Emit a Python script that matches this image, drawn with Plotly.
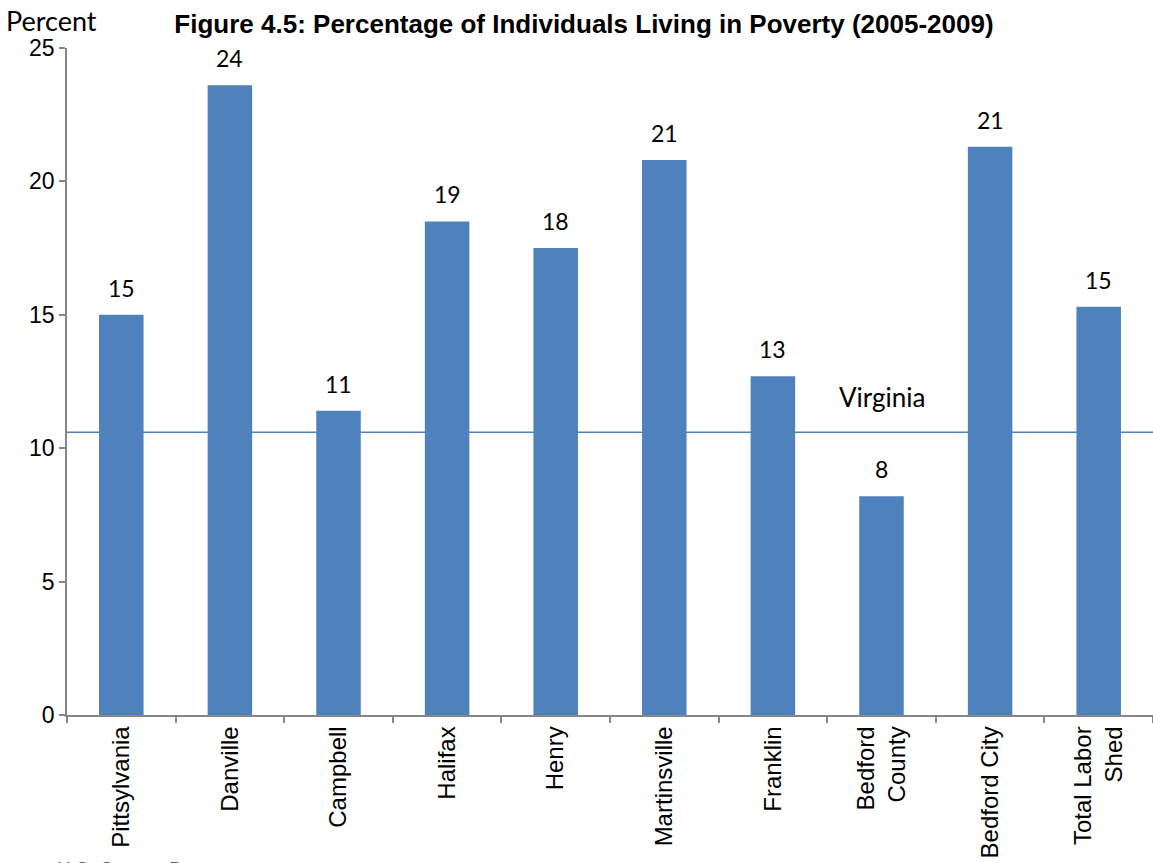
import plotly.graph_objects as go

categories = ["Pittsylvania", "Danville", "Campbell", "Halifax", "Henry",
              "Martinsville", "Franklin", "Bedford<br>County", "Bedford City",
              "Total Labor<br>Shed"]
poverty_pct = [15.0, 23.6, 11.4, 18.5, 17.5, 20.8, 12.7, 8.2, 21.3, 15.3]
value_labels = ["15", "24", "11", "19", "18", "21", "13", "8", "21", "15"]
virginia_pct = 10.6
y_ticks = [0, 5, 10, 15, 20, 25]

BLUE = "#4F81BD"
AXIS = "#868686"
ARIAL = "Liberation Sans, Arial, sans-serif"
CALIBRI = "Lato, Carlito, Calibri, sans-serif"

fig = go.Figure()
fig.add_trace(go.Bar(
    x=categories, y=poverty_pct,
    marker=dict(color=BLUE, line=dict(width=0)),
    cliponaxis=False, hoverinfo="skip",
))

for cat, val, lab in zip(categories, poverty_pct, value_labels):
    fig.add_annotation(text=lab, x=cat, y=val, xref="x", yref="y",
                       yanchor="bottom", yshift=11, showarrow=False,
                       font=dict(family=CALIBRI, size=23, color="black"))

fig.add_shape(type="line", xref="paper", x0=0, x1=1, yref="y",
              y0=virginia_pct, y1=virginia_pct,
              line=dict(color=BLUE, width=1.5), layer="above")

fig.add_annotation(text="Virginia", xref="x", x=categories[7], yref="y", y=virginia_pct,
                   yshift=35, showarrow=False,
                   font=dict(family=CALIBRI, size=26, color="black"))

fig.add_annotation(text="Percent", xref="paper", x=-0.058, xanchor="left",
                   yref="paper", y=1.069, yanchor="top", showarrow=False,
                   font=dict(family=CALIBRI, size=27, color="black"))

fig.add_annotation(text="U.S. Census Bureau", xref="paper", x=-0.011, xanchor="left",
                   yref="paper", y=-0.2114, yanchor="top", showarrow=False,
                   font=dict(family=ARIAL, size=19, color="#595959"))

fig.update_layout(
    width=1153, height=863,
    margin=dict(l=67, r=0, t=48, b=148, autoexpand=False),
    paper_bgcolor="white", plot_bgcolor="white",
    title=dict(text="<b>Figure 4.5: Percentage of Individuals Living in Poverty (2005-2009)</b>",
               x=0.5065, xanchor="center", y=0.972, yanchor="middle",
               font=dict(family=ARIAL, size=26, color="black")),
    bargap=0.59,
    showlegend=False,
    xaxis=dict(
        type="category", tickangle=-90, showline=True, linecolor=AXIS, linewidth=1.5,
        ticks="outside", tickson="boundaries", ticklen=6, tickcolor=AXIS, tickwidth=1.5,
        tickfont=dict(family=ARIAL, size=24, color="black"), showgrid=False,
        automargin=False,
    ),
    yaxis=dict(
        range=[0, 25], tickvals=y_ticks, showline=True, linecolor=AXIS, linewidth=1.5,
        ticks="outside", ticklen=6, tickcolor=AXIS, tickwidth=1.5,
        tickfont=dict(family=ARIAL, size=23, color="black"), showgrid=False,
        zeroline=False, automargin=False,
    ),
)

fig.write_html(
    "out.html",
    config={"responsive": False, "displayModeBar": False},
    post_script="document.body.style.margin='0px';document.body.style.overflow='hidden';",
)
